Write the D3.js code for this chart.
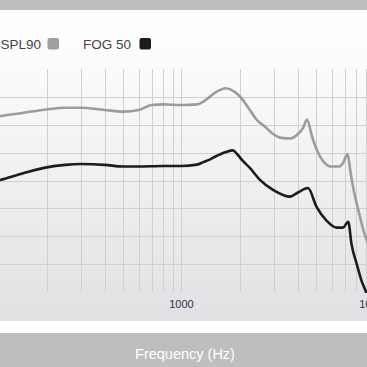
<!DOCTYPE html>
<html>
<head>
<meta charset="utf-8">
<script src="https://cdn.jsdelivr.net/npm/d3@7/dist/d3.min.js"></script>
<style>
  html, body { margin: 0; padding: 0; background: #fff; }
  svg { display: block; font-family: "Liberation Sans", Arial, Helvetica, sans-serif; }
</style>
</head>
<body>
<svg id="chart" width="367" height="367"></svg>
<script>
// ---- data ----
const seriesNames = ["SPL90", "FOG 50"];
const xTickLabels = [100, 1000, 10000];
const yGridValues = [50, 60, 70, 80, 90, 100, 110];

const splFreq = [100, 115, 150, 200, 250, 300, 400, 500, 600, 700, 800, 1000, 1200, 1300, 1400, 1500, 1600, 1700, 1800, 1900, 2000, 2260, 2460, 2710, 2980, 3360, 3690, 4010, 4260, 4470, 4750, 5040, 5410, 5950, 6550, 6870, 7250, 7510, 7740, 8070, 8410, 8720, 9070, 10060];
const spl90   = [102.4, 103.1, 104.2, 105.5, 106.1, 106.1, 105.3, 104.7, 105.3, 107.1, 107.3, 107.1, 107.3, 108.3, 110.0, 111.6, 112.6, 113.1, 112.6, 111.6, 110.3, 105.3, 101.7, 99.3, 96.7, 95.2, 95.1, 96.7, 98.8, 101.9, 95.7, 90.8, 87.0, 85.0, 85.0, 86.3, 89.5, 83.0, 77.8, 71.9, 67.0, 62.6, 59.0, 53.3];

const fogFreq = [100, 115, 150, 200, 250, 300, 400, 500, 600, 800, 1000, 1200, 1300, 1400, 1500, 1600, 1700, 1850, 1940, 2080, 2260, 2550, 2980, 3360, 3650, 4010, 4520, 5010, 5640, 6360, 6870, 7310, 7600, 8090, 8580, 9040, 9710];
const fog50   = [79.1, 80.2, 82.5, 84.7, 85.6, 85.9, 85.6, 85.0, 85.0, 85.2, 85.2, 85.7, 86.6, 87.5, 88.6, 89.5, 90.2, 90.8, 89.5, 87.0, 84.5, 80.2, 76.6, 74.8, 74.2, 75.7, 77.3, 70.5, 65.6, 63.1, 63.1, 65.2, 57.2, 50.0, 43.9, 40.0, 33.5];

// ---- layout ----
const W = 367, H = 367;
const plotTop = 69, plotBottom = 292;
const svg = d3.select("#chart");

const x = d3.scaleLog().domain([100, 10000]).range([-11.5, 374.5]);
const y = d3.scaleLinear().domain([40, 120]).range([plotBottom, plotTop]);

const defs = svg.append("defs");
const grad = defs.append("linearGradient").attr("id", "bg").attr("x1", 0).attr("y1", 0).attr("x2", 0).attr("y2", 1);
grad.append("stop").attr("offset", "0%").attr("stop-color", "#ffffff");
grad.append("stop").attr("offset", "25%").attr("stop-color", "#f9f9fa");
grad.append("stop").attr("offset", "100%").attr("stop-color", "#e1e1e4");
defs.append("clipPath").attr("id", "clip").append("rect")
  .attr("x", -40).attr("y", plotTop - 10).attr("width", W + 80).attr("height", plotBottom - plotTop + 11);

// backgrounds
svg.append("rect").attr("x", 0).attr("y", 0).attr("width", W).attr("height", H).attr("fill", "#ffffff");
svg.append("rect").attr("x", 0).attr("y", 0).attr("width", W).attr("height", 10).attr("fill", "#bebebe");
svg.append("rect").attr("x", 0).attr("y", 10).attr("width", W).attr("height", 311).attr("fill", "url(#bg)");
svg.append("rect").attr("x", 0).attr("y", 333).attr("width", W).attr("height", 34).attr("fill", "#bebebe");

// grid
const g = svg.append("g");
g.selectAll("line.v").data(x.ticks()).join("line")
  .attr("class", "v")
  .attr("x1", d => Math.round(x(d)) + 0.5).attr("x2", d => Math.round(x(d)) + 0.5)
  .attr("y1", plotTop).attr("y2", plotBottom)
  .attr("stroke", "#d0d0d2").attr("stroke-width", 1);
g.selectAll("line.h").data(yGridValues).join("line")
  .attr("class", "h")
  .attr("x1", 0).attr("x2", W)
  .attr("y1", d => Math.round(y(d)) + 0.5).attr("y2", d => Math.round(y(d)) + 0.5)
  .attr("stroke", "#d0d0d2").attr("stroke-width", 1);

// x tick labels
svg.selectAll("text.xt").data(xTickLabels).join("text")
  .attr("class", "xt")
  .attr("x", d => x(d)).attr("y", 308)
  .attr("text-anchor", "middle")
  .attr("font-size", 11).attr("fill", "#333")
  .text(d => d);

// lines
const line = d3.line().x(d => x(d[0])).y(d => y(d[1])).curve(d3.curveMonotoneX);
const lines = svg.append("g").attr("clip-path", "url(#clip)");
lines.append("path")
  .datum(splFreq.map((f, i) => [f, spl90[i]]))
  .attr("d", line).attr("fill", "none")
  .attr("stroke", "#9c9c9c").attr("stroke-width", 2.6).attr("stroke-linejoin", "round");
lines.append("path")
  .datum(fogFreq.map((f, i) => [f, fog50[i]]))
  .attr("d", line).attr("fill", "none")
  .attr("stroke", "#1c1c1c").attr("stroke-width", 2.6).attr("stroke-linejoin", "round");

// legend
const legendColors = ["#a0a0a0", "#1c1c1c"];
const legendTextEnd = [41, 131];
const legendSwatch = [47.5, 139.5];
seriesNames.forEach((name, i) => {
  svg.append("text")
    .attr("x", legendTextEnd[i]).attr("y", 48.5)
    .attr("text-anchor", "end")
    .attr("font-size", 13.5).attr("fill", "#444")
    .text(name);
  svg.append("rect")
    .attr("x", legendSwatch[i]).attr("y", 38).attr("width", 11.5).attr("height", 11.5)
    .attr("rx", 2).attr("fill", legendColors[i]);
});

// axis title
svg.append("text")
  .attr("x", 185).attr("y", 358.5)
  .attr("text-anchor", "middle")
  .attr("font-size", 14.5).attr("fill", "#ffffff")
  .text("Frequency (Hz)");
</script>
</body>
</html>
